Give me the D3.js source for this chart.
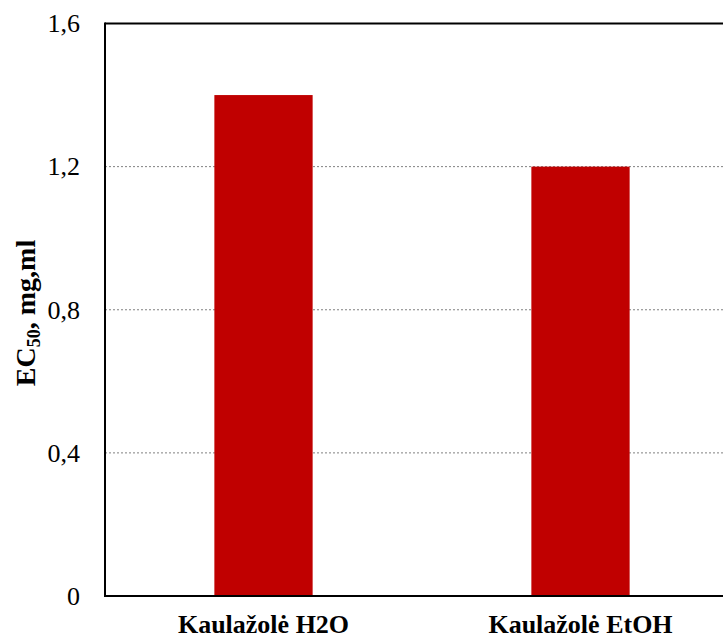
<!DOCTYPE html>
<html><head><meta charset="utf-8">
<script src="https://cdn.jsdelivr.net/npm/d3@7"></script>
<style>body{margin:0;background:#fff}svg{display:block}</style>
</head><body>
<svg id="c" width="723" height="638"></svg>
<script>
const categories = ["Kaulažolė H2O", "Kaulažolė EtOH"];
const values = [1.4, 1.2];
const yTicks = [0, 0.4, 0.8, 1.2, 1.6];
const tickLabels = ["0", "0,4", "0,8", "1,2", "1,6"];

(function () {
const svg = d3.select("#c");
const FONT = "'Times New Roman', 'Liberation Serif', serif";
const pL = 105, pR = 739, pT = 23.5, pB = 596;
const x = d3.scaleBand().domain(categories).range([pL, pR]).paddingInner(0.69).paddingOuter(0.345);
const y = d3.scaleLinear().domain([0, 1.6]).range([pB, pT]);

// gridlines
svg.append("g").selectAll("line").data(yTicks.filter(d => d > 0 && d < 1.6)).join("line")
  .attr("x1", pL).attr("x2", pR).attr("y1", d => y(d)).attr("y2", d => y(d))
  .attr("stroke", "#808080").attr("stroke-width", 1).attr("stroke-dasharray", "2,2");

// bars
svg.append("g").selectAll("rect").data(values).join("rect")
  .attr("x", (d, i) => x(categories[i])).attr("width", x.bandwidth())
  .attr("y", d => y(d)).attr("height", d => y(0) - y(d))
  .attr("fill", "#c00000");

// frame
svg.append("line").attr("x1", pL).attr("x2", pR).attr("y1", pT).attr("y2", pT).attr("stroke", "#000").attr("stroke-width", 2);
svg.append("line").attr("x1", pL).attr("x2", pR).attr("y1", pB).attr("y2", pB).attr("stroke", "#000").attr("stroke-width", 2);
svg.append("line").attr("x1", pL).attr("x2", pL).attr("y1", pT - 1).attr("y2", pB + 1).attr("stroke", "#000").attr("stroke-width", 2);

// y axis labels
const yAxis = d3.axisLeft(y).tickValues(yTicks).tickFormat((d, i) => tickLabels[i]).tickSize(0).tickPadding(25);
const ga = svg.append("g").attr("transform", `translate(${pL},0)`).call(yAxis);
ga.select(".domain").remove();
ga.selectAll("text").attr("font-family", FONT).attr("font-size", 26).attr("fill", "#000");

// x axis labels
const xAxis = d3.axisBottom(x).tickSize(0).tickPadding(18.5);
const gx = svg.append("g").attr("transform", `translate(0,${pB})`).call(xAxis);
gx.select(".domain").remove();
gx.selectAll("text").attr("font-family", FONT).attr("font-size", 26).attr("font-weight", "bold").attr("fill", "#000");

// y title
const t = svg.append("text").attr("transform", `translate(35,313) rotate(-90)`)
  .attr("text-anchor", "middle").attr("font-family", FONT)
  .attr("font-size", 28).attr("font-weight", "bold").attr("fill", "#000");
t.append("tspan").text("EC");
t.append("tspan").text("50").attr("font-size", 18).attr("dy", 5);
t.append("tspan").text(", mg,ml").attr("dy", -5);
})();
</script>
</body></html>
